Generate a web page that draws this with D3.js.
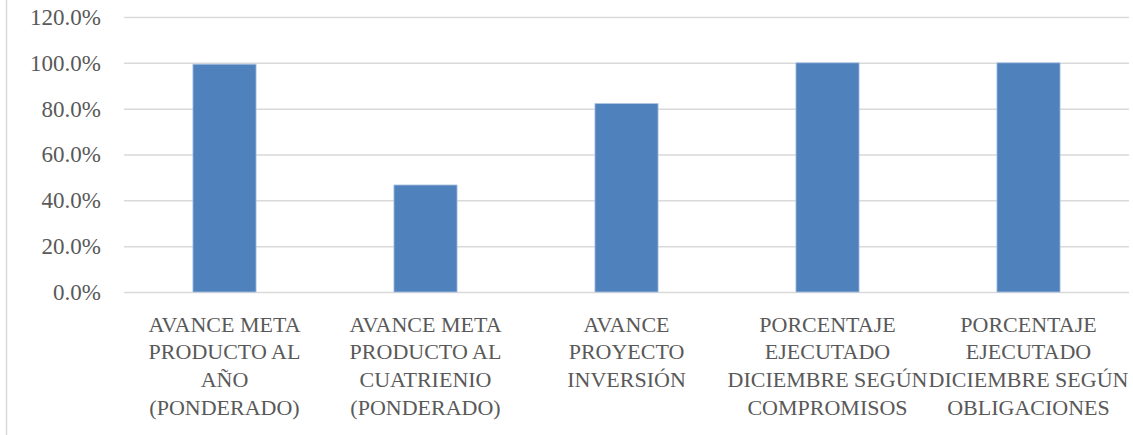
<!DOCTYPE html>
<html>
<head>
<meta charset="utf-8">
<script src="https://cdn.jsdelivr.net/npm/d3@7"></script>
<style>
  body { margin: 0; background: #fff; }
  svg { display: block; }
  text { font-family: "Liberation Serif", serif; fill: #595959; }
</style>
</head>
<body>
<svg id="chart"></svg>
<script>
// Chart data
let categories = [
    "AVANCE META|PRODUCTO AL|AÑO|(PONDERADO)",
    "AVANCE META|PRODUCTO AL|CUATRIENIO|(PONDERADO)",
    "AVANCE|PROYECTO|INVERSIÓN",
    "PORCENTAJE|EJECUTADO|DICIEMBRE SEGÚN|COMPROMISOS",
    "PORCENTAJE|EJECUTADO|DICIEMBRE SEGÚN|OBLIGACIONES"
];
let values = [0.994, 0.467, 0.822, 1.0, 1.0];
let yTicks = [0, 0.2, 0.4, 0.6, 0.8, 1.0, 1.2];

// Layout
let width = 1133,
    height = 435;
let margin = { top: 17, right: 4, bottom: 143, left: 124 };

let svg = d3.select("#chart")
    .attr("width", width)
    .attr("height", height);

// left frame edge
svg.append("line")
    .attr("x1", 6.5).attr("x2", 6.5)
    .attr("y1", 0).attr("y2", height)
    .attr("stroke", "#d9d9d9")
    .attr("stroke-width", 1.5);

let x = d3.scaleBand()
    .domain(categories)
    .range([margin.left, width - margin.right])
    .paddingInner(0.686)
    .paddingOuter(0.343);

let y = d3.scaleLinear()
    .domain([0, 1.2])
    .range([height - margin.bottom, margin.top]);

let fmt = d3.format(".1%");

// gridlines + tick labels
let yAxis = d3.axisLeft(y)
    .tickValues(yTicks)
    .tickFormat(fmt)
    .tickSize(-(width - margin.right - margin.left))
    .tickPadding(23);

let gy = svg.append("g")
    .attr("transform", "translate(" + margin.left + ",0)")
    .call(yAxis);
gy.select(".domain").remove();
gy.selectAll(".tick line")
    .attr("stroke", "#d9d9d9")
    .attr("stroke-width", 1.5);
gy.selectAll(".tick text")
    .attr("font-size", "23px")
    .style("font-family", "Liberation Serif, serif")
    .attr("fill", "#595959");

// bars
svg.append("g")
    .selectAll("rect")
    .data(values)
    .join("rect")
    .attr("x", (d, i) => x(categories[i]))
    .attr("y", d => y(d))
    .attr("width", x.bandwidth())
    .attr("height", d => y(0) - y(d))
    .attr("fill", "#4f81bd")
    .attr("stroke", "#a9c1e0")
    .attr("stroke-width", 0.8);

// category labels
let xl = svg.append("g");
categories.forEach(function (c) {
    let t = xl.append("text")
        .attr("text-anchor", "middle")
        .attr("font-size", "22px")
        .attr("transform", "translate(" + (x(c) + x.bandwidth() / 2) + "," + 331.5 + ")");
    c.split("|").forEach(function (line, j) {
        t.append("tspan")
            .attr("x", 0)
            .attr("y", j * 27.8)
            .text(line);
    });
});
</script>
</body>
</html>
